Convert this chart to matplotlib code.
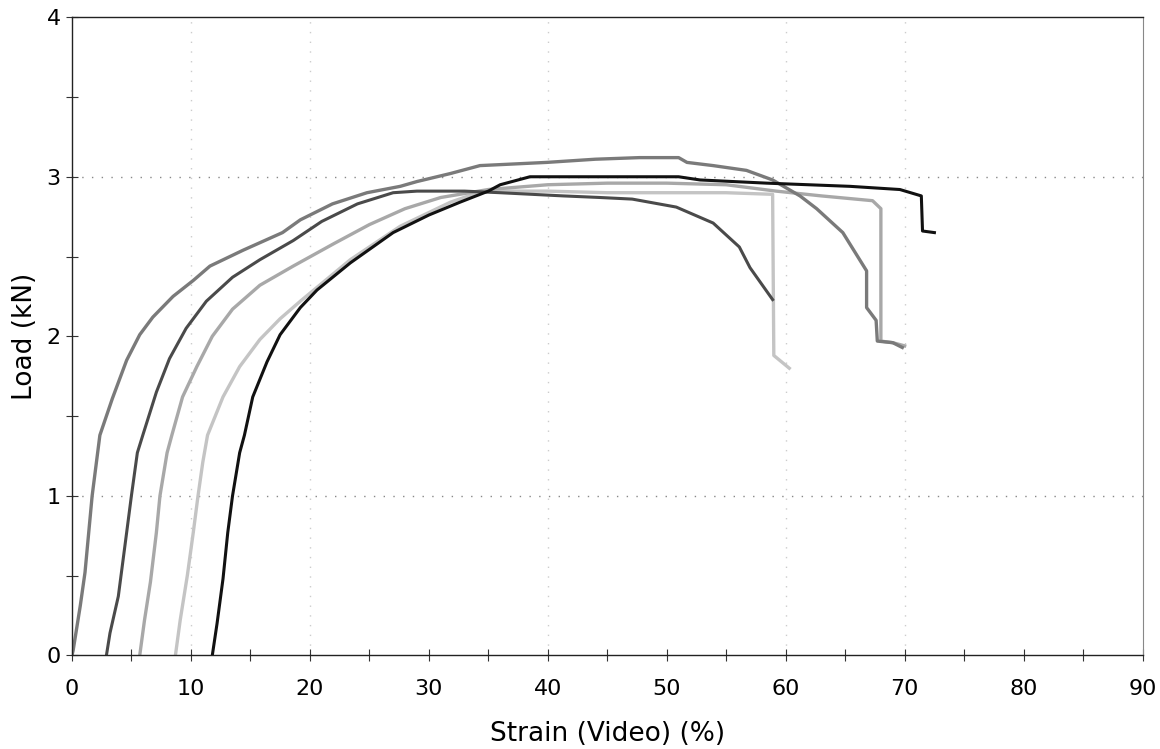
import matplotlib.pyplot as plt
from matplotlib.ticker import MultipleLocator

# five test specimens, strain (%) vs load (kN)
strain_a = [0, 0.1, 0.7, 1.1, 1.7, 2.35, 3.4, 4.6, 5.7, 6.8, 8.5, 10.2, 11.6, 14.4, 17.7, 19.2, 21.9,
            24.8, 27.6, 29.0, 31.8, 34.3, 39.9, 44.0, 47.7, 51.0, 51.7, 53.9, 56.7, 58.9, 61.2, 62.6,
            64.8, 66.8, 66.8, 67.6, 67.7, 69.0, 69.8]
load_a = [0, 0.03, 0.31, 0.52, 1.0, 1.38, 1.61, 1.85, 2.01, 2.12, 2.25, 2.35, 2.44, 2.54, 2.65, 2.73, 2.83,
          2.90, 2.94, 2.97, 3.02, 3.07, 3.09, 3.11, 3.12, 3.12, 3.09, 3.07, 3.04, 2.98, 2.88, 2.80,
          2.65, 2.41, 2.18, 2.10, 1.97, 1.96, 1.93]

strain_b = [2.9, 3.2, 3.9, 4.6, 5.0, 5.5, 6.0, 7.1, 8.2, 9.6, 11.3, 13.5, 15.8, 18.6, 21.0, 24.0, 27.0,
            29.0, 33.0, 36.0, 41.3, 44.4, 47.1, 50.8, 53.9, 56.1, 57.0, 58.9]
load_b = [0, 0.14, 0.37, 0.77, 1.0, 1.27, 1.39, 1.65, 1.86, 2.05, 2.22, 2.37, 2.48, 2.60, 2.72, 2.83, 2.90,
          2.91, 2.91, 2.90, 2.88, 2.87, 2.86, 2.81, 2.71, 2.56, 2.43, 2.23]

strain_c = [5.7, 6.1, 6.6, 7.1, 7.4, 8.0, 8.4, 9.3, 10.5, 11.8, 13.5, 15.8, 18.6, 22.0, 25.0, 28.0, 31.0,
            35.0, 40.0, 45.0, 50.0, 55.0, 59.2, 63.0, 67.3, 68.0, 68.0, 69.0, 70.0]
load_c = [0, 0.22, 0.46, 0.77, 1.0, 1.27, 1.38, 1.62, 1.81, 2.0, 2.17, 2.32, 2.44, 2.58, 2.70, 2.80, 2.87,
          2.92, 2.95, 2.96, 2.96, 2.95, 2.91, 2.88, 2.85, 2.80, 1.97, 1.96, 1.94]

strain_d = [8.7, 9.1, 9.7, 10.2, 10.6, 11.0, 11.4, 12.7, 14.1, 15.8, 17.5, 19.2, 23.4, 27.6, 31.8, 34.5,
            40.0, 45.0, 50.0, 55.0, 58.9, 59.0, 60.3]
load_d = [0, 0.22, 0.5, 0.77, 1.0, 1.21, 1.38, 1.62, 1.81, 1.98, 2.11, 2.22, 2.48, 2.69, 2.84, 2.91,
          2.91, 2.90, 2.90, 2.90, 2.89, 1.88, 1.80]

strain_e = [11.8, 12.2, 12.7, 13.1, 13.5, 14.1, 14.5, 15.2, 16.4, 17.5, 19.2, 20.6, 23.4, 27.0, 30.0, 32.6,
            35.0, 36.0, 38.5, 45.0, 51.0, 52.8, 58.4, 65.4, 69.6, 71.4, 71.5, 72.5]
load_e = [0, 0.2, 0.48, 0.77, 1.0, 1.27, 1.38, 1.62, 1.84, 2.01, 2.18, 2.29, 2.46, 2.65, 2.76, 2.84,
          2.91, 2.95, 3.0, 3.0, 3.0, 2.98, 2.96, 2.94, 2.92, 2.88, 2.66, 2.65]

plt.figure(figsize=[11.6, 7.49], dpi=100)
ax = plt.axes([0.062, 0.125, 0.923, 0.852])

ax.plot(strain_d, load_d, color='#c4c4c4', linewidth=2.4)
ax.plot(strain_c, load_c, color='#a8a8a8', linewidth=2.4)
ax.plot(strain_a, load_a, color='#7a7a7a', linewidth=2.4)
ax.plot(strain_b, load_b, color='#4a4a4a', linewidth=2.2)
ax.plot(strain_e, load_e, color='#111111', linewidth=2.2)

# faint dotted grid like the scan
for y in [1, 3]:
    ax.axhline(y, color='#888888', linestyle=(0, (1, 6)), linewidth=1, zorder=0)
for x in [10, 20, 40, 60, 70]:
    ax.axvline(x, color='#cccccc', linestyle=(0, (1, 6)), linewidth=1, zorder=0)

ax.set_xlim(0, 90)
ax.set_ylim(0, 4)
ax.xaxis.set_major_locator(MultipleLocator(10))
ax.xaxis.set_minor_locator(MultipleLocator(5))
ax.yaxis.set_major_locator(MultipleLocator(1))
ax.yaxis.set_minor_locator(MultipleLocator(0.5))
ax.tick_params(which='both', direction='inout', length=8, width=0.8, colors='#333333', labelcolor='black', labelsize=16)
ax.tick_params(axis='x', pad=13)
ax.tick_params(axis='y', pad=4)
for s in ['left', 'bottom', 'top']:
    ax.spines[s].set_color('#222222')
    ax.spines[s].set_linewidth(1)
ax.spines['right'].set_color('#888888')

plt.xlabel("Strain (Video) (%)", fontsize=19, labelpad=16)
plt.ylabel("Load (kN)", fontsize=19, labelpad=6)
plt.savefig('out.png')
